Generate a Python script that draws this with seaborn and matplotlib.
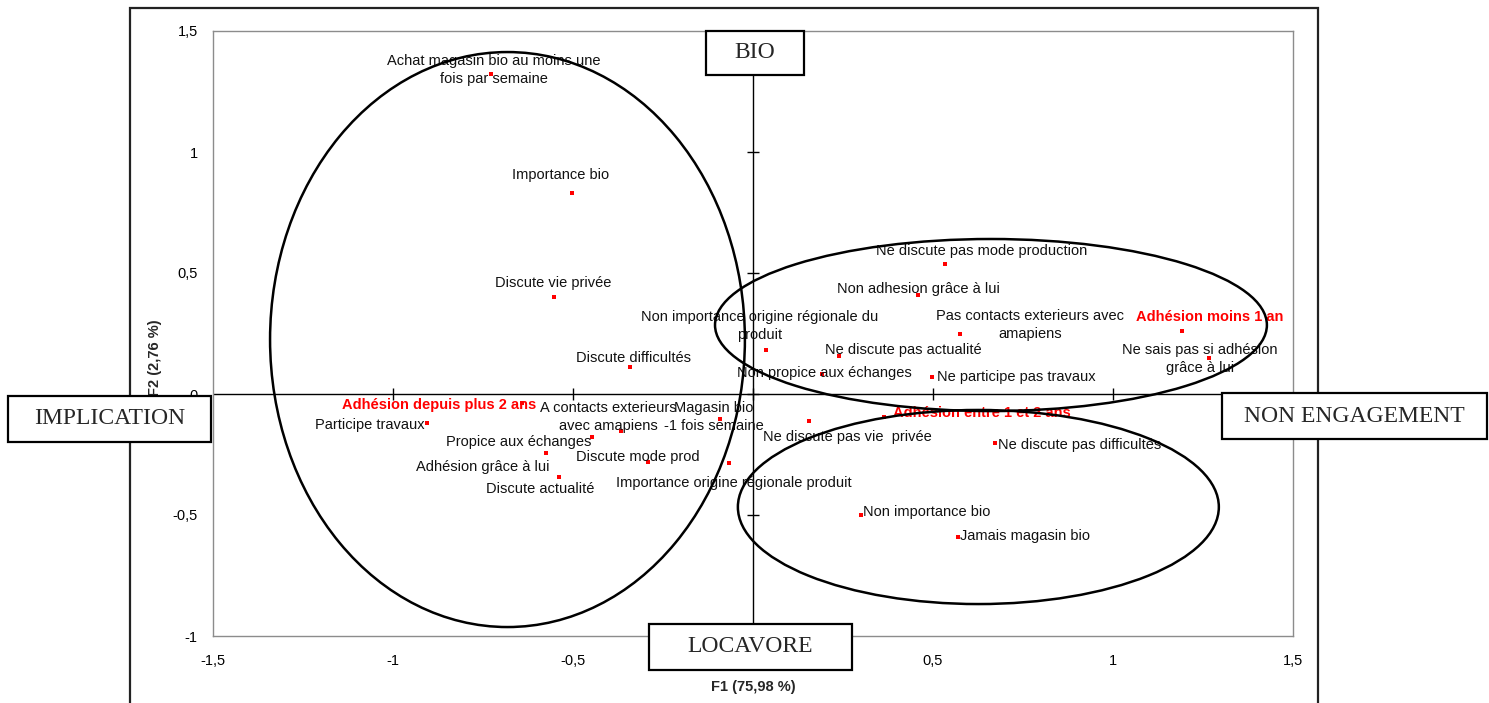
import matplotlib
matplotlib.use("Agg")
import matplotlib.pyplot as plt
from matplotlib.patches import Ellipse, Rectangle
import pandas as pd
import seaborn as sns

# ---- data: factor coordinates of the modalities ----
modalites = [
    "Achat magasin bio au moins une\nfois par semaine",
    "Importance bio",
    "Discute vie privée",
    "Discute difficultés",
    "Non importance origine régionale du\nproduit",
    "Non propice aux échanges",
    "Ne discute pas actualité",
    "Non adhesion grâce à lui",
    "Pas contacts exterieurs avec\namapiens",
    "Ne participe pas travaux",
    "Ne discute pas mode production",
    "Adhésion moins 1 an",
    "Ne sais pas si adhésion\ngrâce à lui",
    "Adhésion depuis plus 2 ans",
    "Participe travaux",
    "Propice aux échanges",
    "Adhésion grâce à lui",
    "Discute actualité",
    "A contacts exterieurs\navec amapiens",
    "Magasin bio\n-1 fois semaine",
    "Discute mode prod",
    "Importance origine régionale produit",
    "Ne discute pas vie  privée",
    "Ne discute pas difficultés",
    "Non importance bio",
    "Jamais magasin bio",
    "Adhésion entre 1 et 2 ans",
]
f1 = [-0.728, -0.502, -0.552, -0.342, 0.036, 0.191, 0.239, 0.459, 0.575,
      0.498, 0.533, 1.193, 1.267, -0.642, -0.906, -0.446, -0.575, -0.538,
      -0.367, -0.092, -0.291, -0.066, 0.156, 0.672, 0.300, 0.570, 0.365]
f2 = [1.322, 0.832, 0.400, 0.110, 0.182, 0.083, 0.157, 0.408, 0.247,
      0.072, 0.537, 0.260, 0.150, -0.037, -0.121, -0.179, -0.242, -0.342,
      -0.152, -0.103, -0.280, -0.284, -0.110, -0.204, -0.500, -0.592, -0.096]
anciennete = {"Adhésion moins 1 an", "Adhésion depuis plus 2 ans",
              "Adhésion entre 1 et 2 ans"}

x_ticks = [-1.5, -1, -0.5, 0, 0.5, 1, 1.5]
x_tick_labels = ["-1,5", "-1", "-0,5", "0", "0,5", "1", "1,5"]
y_ticks = [-1, -0.5, 0, 0.5, 1, 1.5]
y_tick_labels = ["-1", "-0,5", "0", "0,5", "1", "1,5"]

x_title = "F1 (75,98 %)"
y_title = "F2 (2,76 %)"
poles = ["BIO", "IMPLICATION", "NON ENGAGEMENT", "LOCAVORE"]

# label placement: offset in pixels from the point, and horizontal alignment
label_pos = [
    ((3, 4), "center"), ((-12, 18), "center"), ((-1, 14), "center"),
    ((4, 9), "center"), ((-6, 24), "center"), ((3, 1), "center"),
    ((64, 6), "center"), ((0, 6), "center"), ((70, 9), "center"),
    ((5, 0), "left"), ((37, 13), "center"), ((27, 14), "center"),
    ((-9, -1), "center"), ((-83, -2), "center"), ((-2, -2), "right"),
    ((-74, -5), "center"), ((-63, -14), "center"), ((-19, -12), "center"),
    ((-13, 14), "center"), ((-6, 2), "center"), ((-10, 5), "center"),
    ((5, -20), "center"), ((38, -16), "center"), ((3, -2), "left"),
    ((2, 3), "left"), ((2, 1), "left"), ((9, 4), "left"),
]

df = pd.DataFrame({"modalite": modalites, "F1": f1, "F2": f2})

sns.set_theme(style="white")
plt.rcParams["font.family"] = ["Liberation Sans", "DejaVu Sans"]

W, H = 1489, 703
fig = plt.figure(figsize=(W / 100, H / 100), dpi=100)


def fx(px):
    return px / W


def fy(py):
    return 1 - py / H


ax = fig.add_axes([fx(213), fy(636), fx(1293) - fx(213), fy(31) - fy(636)])
ax.set_xlim(-1.5, 1.5)
ax.set_ylim(-1, 1.5)

for s in ax.spines.values():
    s.set_color("#8c8c8c")
    s.set_linewidth(1.0)

# central axes with cross tick marks
ax.axhline(0, color="black", lw=1.0, zorder=1)
ax.axvline(0, color="black", lw=1.0, zorder=1)
ax.plot(x_ticks[1:-1], [0] * (len(x_ticks) - 2), ls="none", marker="|",
        ms=8, mew=1.0, color="black", zorder=1)
ax.plot([0] * (len(y_ticks) - 2), y_ticks[1:-1], ls="none", marker="_",
        ms=8, mew=1.0, color="black", zorder=1)

ax.set_xticks(x_ticks)
ax.set_xticklabels(x_tick_labels)
ax.set_yticks(y_ticks)
ax.set_yticklabels(y_tick_labels)
ax.tick_params(axis="both", length=0, labelsize=10.5, colors="black")
ax.tick_params(axis="x", pad=13)
ax.tick_params(axis="y", pad=11)

sns.scatterplot(data=df, x="F1", y="F2", ax=ax, color="red", marker="s",
                s=7, linewidth=0, zorder=3, legend=False)
ax.set_xlabel("")
ax.set_ylabel("")

for (lab, x, y), ((dx, dy), ha) in zip(df[["modalite", "F1", "F2"]].values,
                                        label_pos):
    bold = lab in anciennete
    ax.annotate(lab, (x, y), xytext=(dx, dy), textcoords="offset pixels",
                ha=ha, va="center", multialignment="center",
                fontsize=10.5, linespacing=1.35,
                color="red" if bold else "#111111",
                fontweight="bold" if bold else "normal", zorder=4)

# groupings
groups = [((-0.682, 0.225), 1.319, 2.376),
          ((0.661, 0.285), 1.533, 0.711),
          ((0.626, -0.467), 1.336, 0.802)]
for (cx, cy), w, h in groups:
    ax.add_patch(Ellipse((cx, cy), w, h, fill=False, edgecolor="black",
                         lw=1.8, zorder=5))

# axis titles
fig.text(fx(753), fy(687), x_title, ha="center", va="center",
         fontsize=10.5, fontweight="bold")
fig.text(fx(155), fy(358), y_title, ha="center", va="center",
         fontsize=10.5, fontweight="bold", rotation=90)

# outer chart frame (bottom edge lies below the canvas)
fig.add_artist(Rectangle((fx(130), -0.2), fx(1318) - fx(130), fy(8) + 0.2,
                         transform=fig.transFigure, fill=False,
                         edgecolor="#222222", lw=1.6, zorder=0))

# pole boxes
boxes = [(706, 31, 804, 75), (8, 396, 211, 442),
         (1222, 393, 1487, 439), (649, 624, 852, 670)]
for name, (x0, y0, x1, y1) in zip(poles, boxes):
    fig.add_artist(Rectangle((fx(x0), fy(y1)), fx(x1) - fx(x0),
                             fy(y0) - fy(y1), transform=fig.transFigure,
                             facecolor="white", edgecolor="black", lw=1.6,
                             zorder=10))
    fig.text(fx((x0 + x1) / 2), fy((y0 + y1) / 2), name, ha="center",
             va="center", fontsize=17, family="Liberation Serif", zorder=11)

fig.savefig("out.png", dpi=100, facecolor="white")
